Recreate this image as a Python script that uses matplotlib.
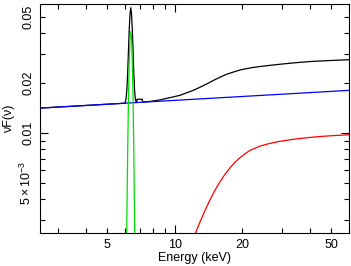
import numpy as np
import matplotlib
matplotlib.use('Agg')
from matplotlib import pyplot as plt

#==============================================================================
# data (energy in keV, nuF(nu))

# power-law continuum
e_pow = [2.5, 60.0]
v_pow = [0.01415, 0.0181]

# reflection component
e_refl = [12.0, 12.4, 12.96, 13.6, 14.36, 15.1, 15.9, 16.75, 17.64, 18.6, 19.55, 20.6,
          21.7, 24.0, 26.5, 29.5, 32.7, 36.2, 40.5, 45.0, 52.0, 60.0]
v_refl = [0.00224, 0.00252, 0.00291, 0.00338, 0.00396, 0.00451, 0.00508, 0.00564, 0.00617,
          0.00668, 0.00711, 0.00751, 0.00787, 0.00835, 0.00866, 0.00892, 0.00912, 0.00928,
          0.00943, 0.00955, 0.00967, 0.00978]

# Fe K line
e_line = [5.95, 6.06, 6.11, 6.16, 6.21, 6.26, 6.31, 6.36, 6.41, 6.46, 6.51, 6.56, 6.61, 6.66, 6.77]
v_line = [0.00005, 0.0010, 0.0031, 0.00785, 0.0162, 0.0271, 0.0370, 0.0409, 0.0370, 0.0271,
          0.0162, 0.00785, 0.0031, 0.0010, 0.00005]

# total model
e_tot = [2.5, 6.0, 6.06, 6.11, 6.16, 6.21, 6.26, 6.31, 6.36, 6.41, 6.46, 6.51, 6.56, 6.61,
         6.66, 6.72, 6.76, 6.78, 7.15, 7.18, 7.7, 8.2, 8.7, 9.2, 9.8, 10.55, 11.3, 12.1,
         12.96, 13.9, 14.9, 15.9, 17.0, 18.2, 19.55, 21.0, 22.5, 24.0, 26.5, 29.5, 33.0,
         36.2, 42.0, 50.0, 60.0]
v_tot = [0.01415, 0.01515, 0.0162, 0.0183, 0.0231, 0.0314, 0.0423, 0.0522, 0.0570, 0.0522,
         0.0423, 0.0314, 0.0231, 0.0183, 0.0162, 0.0153, 0.0153, 0.0160, 0.0160, 0.0154,
         0.0155, 0.0157, 0.0159, 0.0162, 0.0165, 0.0169, 0.0175, 0.0181, 0.0189, 0.0198,
         0.0208, 0.0217, 0.0226, 0.0233, 0.0240, 0.0245, 0.0249, 0.0252, 0.0256, 0.0260,
         0.0264, 0.0267, 0.0271, 0.0274, 0.0277]

x_major = [10]
x_minor = [3, 4, 5, 6, 7, 8, 9, 20, 30, 40, 50, 60]
x_minor_lab = ['', '', '5', '', '', '', '', '20', '', '', '50', '']
y_major = [0.01]
y_minor = [0.003, 0.004, 0.005, 0.006, 0.007, 0.008, 0.009, 0.02, 0.03, 0.04, 0.05]
y_minor_lab = ['', '', r'$5\times10^{-3}$', '', '', '', '', '0.02', '', '', '0.05']

#==============================================================================
plt.rcParams['font.family'] = ['Liberation Sans', 'DejaVu Sans']
plt.rcParams['mathtext.fontset'] = 'custom'
plt.rcParams['mathtext.rm'] = 'Liberation Sans'
plt.rcParams['mathtext.it'] = 'Liberation Sans:italic'
plt.rcParams['font.size'] = 9

fig = plt.figure(figsize=(3.51, 2.66), dpi=100)
ax = fig.add_axes([40/351, 1-233/266, 309/351, 229/266])

lw = 0.9
ax.plot(e_tot, v_tot, color='black', lw=lw)
ax.plot(e_pow, v_pow, color='#0000ff', lw=lw)
ax.plot(e_refl, v_refl, color='#ff0000', lw=lw)
ax.plot(e_line, v_line, color='#00e000', lw=lw)

ax.set_xscale('log')
ax.set_yscale('log')
ax.set_xlim(2.5, 60)
ax.set_ylim(0.0025, 0.06)

ax.set_xticks(x_major)
ax.set_xticklabels(['10'])
ax.set_xticks(x_minor, minor=True)
ax.set_xticklabels(x_minor_lab, minor=True)
ax.set_yticks(y_major)
ax.set_yticklabels(['0.01'])
ax.set_yticks(y_minor, minor=True)
ax.set_yticklabels(y_minor_lab, minor=True)

ax.tick_params(which='both', direction='in', top=True, right=True, width=0.8, labelsize=9)
ax.tick_params(which='major', length=6)
ax.tick_params(which='minor', length=3.5)
ax.tick_params(axis='x', which='both', pad=4)
ax.tick_params(axis='y', which='both', pad=4, labelrotation=90)
for lab in ax.get_yticklabels() + ax.get_yticklabels(minor=True):
    lab.set_va('center')

for s in ax.spines.values():
    s.set_linewidth(0.8)

ax.set_xlabel('Energy (keV)', fontsize=9, labelpad=1)
ax.set_ylabel('\u03bdF(\u03bd)', fontsize=9, labelpad=3)

plt.savefig('out.png', dpi=100)
